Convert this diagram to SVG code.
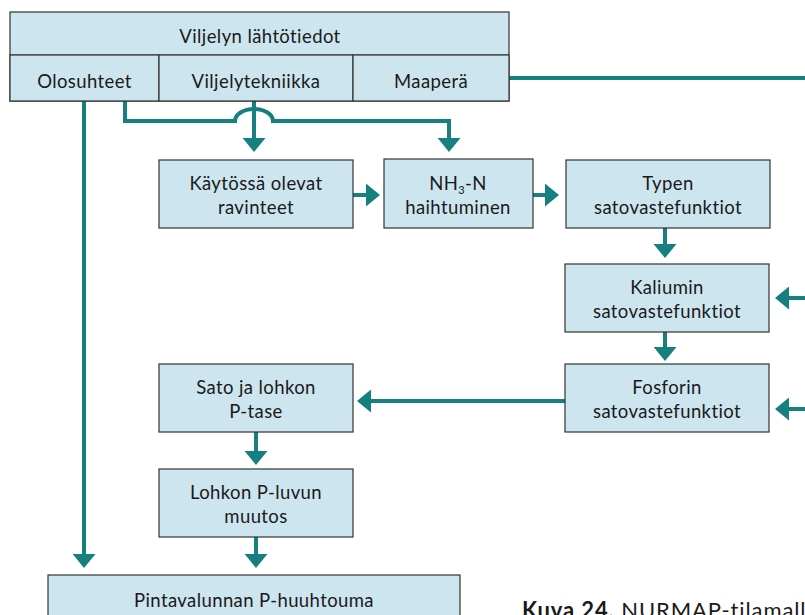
<svg xmlns="http://www.w3.org/2000/svg" width="805" height="615" viewBox="0 0 805 615">
<defs>
<style>
.box{fill:#cde5ee;stroke:#333;stroke-width:1.2}
.t{font-family:Lato,"Liberation Sans",sans-serif;font-size:18.5px;letter-spacing:0.4px;fill:#1a1a1a;text-anchor:middle}
.c{fill:none;stroke:#15807f;stroke-width:4;marker-end:url(#ah)}
.cn{fill:none;stroke:#15807f;stroke-width:4}
.cap{font-family:Lato,"Liberation Sans",sans-serif;font-size:22px;letter-spacing:0.9px;fill:#1a1a1a}
</style>
<marker id="ah" markerUnits="userSpaceOnUse" markerWidth="14" markerHeight="23" viewBox="0 0 14 23" refX="0" refY="11.5" orient="auto">
<path d="M0,0 L14,11.5 L0,23 Z" fill="#15807f"/>
</marker>
</defs>
<rect width="805" height="615" fill="#fff"/>
<g id="connectors">
<path class="c" d="M254,101 V138"/>
<path class="c" d="M125,101 V121 H235 A19,12 0 0 1 273,121 H449 V138"/>
<path class="c" d="M84,101 V554"/>
<path class="cn" d="M509,78 H805"/>
<path class="c" d="M353,195 H366"/>
<path class="c" d="M533,195 H545"/>
<path class="c" d="M665,228 V244"/>
<path class="c" d="M665,332 V347"/>
<path class="c" d="M805,298 H789"/>
<path class="c" d="M805,409 H789"/>
<path class="c" d="M565,401 H371"/>
<path class="c" d="M256,432 V451"/>
<path class="c" d="M256,537 V554"/>
</g>
<g id="lahtotiedot">
<rect class="box" x="10" y="12" width="499" height="89"/>
<line x1="10" y1="55" x2="509" y2="55" stroke="#333" stroke-width="1.2"/>
<text class="t" x="260" y="43">Viljelyn lähtötiedot</text>
</g>
<g id="olosuhteet">
<rect class="box" x="10" y="55" width="149" height="46"/>
<text class="t" x="84.5" y="88">Olosuhteet</text>
</g>
<g id="viljelytekniikka">
<rect class="box" x="159" y="55" width="194" height="46"/>
<text class="t" x="256" y="88">Viljelytekniikka</text>
</g>
<g id="maapera">
<rect class="box" x="353" y="55" width="156" height="46"/>
<text class="t" x="431" y="88">Maaperä</text>
</g>
<g id="kaytossa">
<rect class="box" x="159" y="160" width="194" height="68"/>
<text class="t" x="256" y="190">Käytössä olevat</text>
<text class="t" x="256" y="214">ravinteet</text>
</g>
<g id="nh3">
<rect class="box" x="384" y="159" width="149" height="69"/>
<text class="t" x="458" y="190">NH<tspan font-size="11" dy="4">3</tspan><tspan dy="-4">-N</tspan></text>
<text class="t" x="458" y="214">haihtuminen</text>
</g>
<g id="typen">
<rect class="box" x="566" y="160" width="204" height="68"/>
<text class="t" x="668" y="190">Typen</text>
<text class="t" x="668" y="214">satovastefunktiot</text>
</g>
<g id="kaliumin">
<rect class="box" x="565" y="264" width="204" height="68"/>
<text class="t" x="667" y="294">Kaliumin</text>
<text class="t" x="667" y="318">satovastefunktiot</text>
</g>
<g id="fosforin">
<rect class="box" x="565" y="364" width="204" height="68"/>
<text class="t" x="667" y="394">Fosforin</text>
<text class="t" x="667" y="418">satovastefunktiot</text>
</g>
<g id="sato">
<rect class="box" x="159" y="364" width="194" height="68"/>
<text class="t" x="256" y="394">Sato ja lohkon</text>
<text class="t" x="256" y="418">P-tase</text>
</g>
<g id="lohkon">
<rect class="box" x="159" y="469" width="194" height="68"/>
<text class="t" x="256" y="499">Lohkon P-luvun</text>
<text class="t" x="256" y="523">muutos</text>
</g>
<g id="pintavalunnan">
<rect class="box" x="48" y="575" width="412" height="50"/>
<text class="t" x="254" y="607">Pintavalunnan P-huuhtouma</text>
</g>
<text class="cap" x="522" y="618"><tspan font-weight="bold">Kuva 24.</tspan> NURMAP-tilamall</text>
</svg>
